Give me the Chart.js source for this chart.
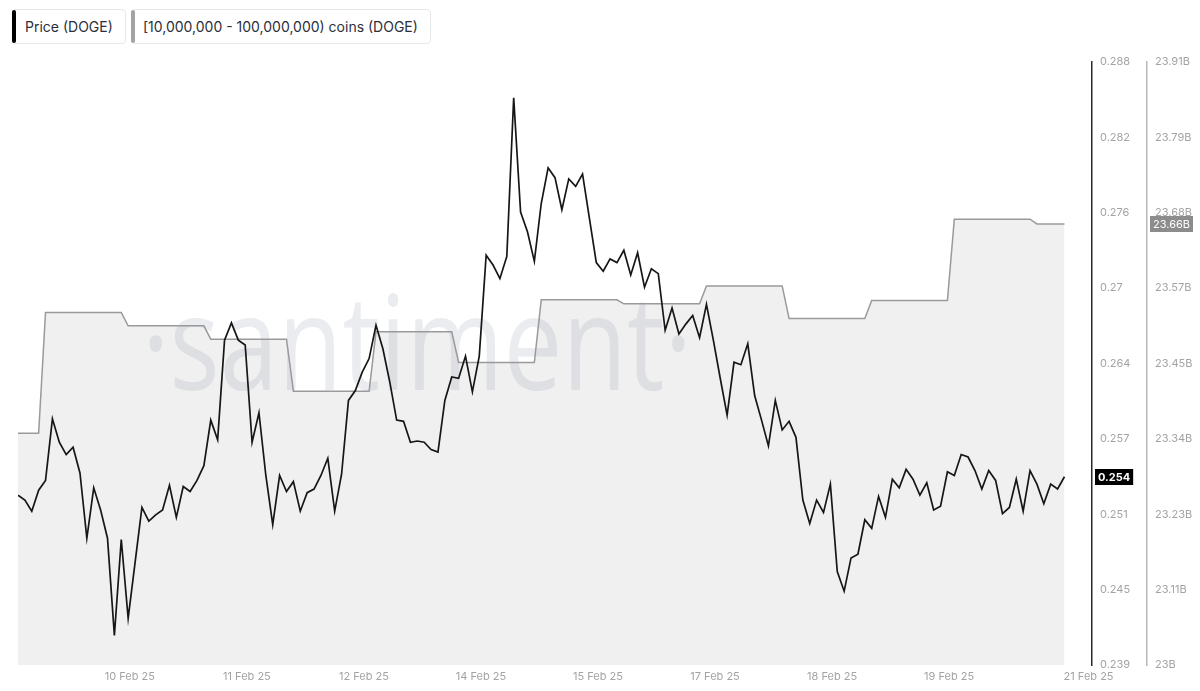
<!DOCTYPE html>
<html><head><meta charset="utf-8">
<script src="https://cdn.jsdelivr.net/npm/chart.js@4.4.1/dist/chart.umd.min.js"></script>
<style>
html,body{margin:0;padding:0;background:#fff;}
#wrap{position:relative;width:1200px;height:691px;overflow:hidden;font-family:Inter,"Noto Sans",sans-serif;}
canvas{position:absolute;left:0;top:0;}
.leg{position:absolute;top:9px;height:35px;box-sizing:border-box;border:1px solid #e8e8e8;border-radius:4px;background:#fff;font-size:14px;color:#2b2f3a;line-height:33px;padding:0 12px 0 12px;white-space:nowrap;}
.leg i{position:absolute;left:-1px;top:0px;bottom:0px;width:4px;border-radius:3px;}
</style></head>
<body>
<div id="wrap">
<canvas id="c" width="1200" height="691"></canvas>
<div class="leg" style="left:12px"><i style="background:#000"></i>Price (DOGE)</div>
<div class="leg" style="left:131px;padding-left:11px"><i style="background:#a3a3a3"></i>[10,000,000 - 100,000,000) coins (DOGE)</div>
</div>
<script>
// ---- DATA (2-hourly price points, daily holder balance) ----
const price = [
0.2528,0.2524,0.2515,0.2532,0.2540,0.2590,0.2571,0.2561,0.2567,0.2546,
0.2493,0.2534,0.2516,0.2493,0.2414,0.2492,0.2428,0.2473,0.2518,0.2507,
0.2512,0.2516,0.2536,0.2510,0.2535,0.2531,0.2540,0.2552,0.2589,0.2573,
0.2654,0.2668,0.2654,0.2650,0.2571,0.2595,0.2544,0.2504,0.2544,0.2531,
0.2539,0.2515,0.2530,0.2533,0.2544,0.2558,0.2515,0.2545,0.2605,0.2613,
0.2628,0.2639,0.2666,0.2647,0.2620,0.2589,0.2588,0.2571,0.2572,0.2571,
0.2565,0.2563,0.2605,0.2624,0.2623,0.2641,0.2612,0.2641,0.2723,0.2715,
0.2704,0.2722,0.2851,0.2758,0.2742,0.2718,0.2765,0.2794,0.2786,0.2760,
0.2785,0.2779,0.2789,0.2753,0.2717,0.2710,0.2720,0.2717,0.2727,0.2707,
0.2725,0.2697,0.2712,0.2708,0.2662,0.2680,0.2659,0.2667,0.2674,0.2656,
0.2683,0.2654,0.2623,0.2593,0.2636,0.2634,0.2651,0.2609,0.2589,0.2568,
0.2605,0.2581,0.2588,0.2575,0.2524,0.2505,0.2524,0.2514,0.2537,0.2466,
0.2450,0.2477,0.2480,0.2508,0.2501,0.2527,0.2510,0.2541,0.2534,0.2549,
0.2541,0.2528,0.2538,0.2516,0.2519,0.2547,0.2544,0.2561,0.2559,0.2548,
0.2533,0.2548,0.2540,0.2513,0.2518,0.2541,0.2515,0.2548,0.2537,0.2521,
0.2537,0.2533,0.2543
];
// holder balance (billions DOGE), one value per day; index of price point where each day starts
const holderLevels = [23.348,23.529,23.509,23.489,23.411,23.500,23.454,23.548,23.542,23.569,23.520,23.547,23.669,23.662];
const holderDayStart = [0,4,16,28,40,52,64,76,88,100,112,124,136,148];

const xTickLabels = ['10 Feb 25','11 Feb 25','12 Feb 25','14 Feb 25','15 Feb 25','17 Feb 25','18 Feb 25','19 Feb 25','21 Feb 25'];
const xTickAt = [16.25,33.25,50.25,67.25,84.25,101.25,118.25,135.25,155.5];
const xMax = 156;

const priceTickLabels = ['0.239','0.245','0.251','0.257','0.264','0.27','0.276','0.282','0.288'];
const priceMin = 0.239, priceMax = 0.288;
const holderTickLabels = ['23B','23.11B','23.23B','23.34B','23.45B','23.57B','23.68B','23.79B','23.91B'];
const holderMin = 23.0, holderMax = 23.905;

const priceLabel = 'Price (DOGE)';
const holderLabel = '[10,000,000 - 100,000,000) coins (DOGE)';

// ---- build datasets ----
const pricePoints = price.map((v,i)=>({x:i,y:v}));
const holderPoints = [];
holderLevels.forEach((v,k)=>{
  const s = holderDayStart[k];
  const e = k+1<holderDayStart.length ? holderDayStart[k+1]-1 : price.length-1;
  holderPoints.push({x:s,y:v},{x:e,y:v});
});

const FONT = 'Inter';
const TICK_COLOR = '#a3a3a3';

const evenTicks = (min,max,n)=>Array.from({length:n},(_,i)=>({value:min+i*(max-min)/(n-1)}));

const watermark = {
  id:'watermark',
  beforeDatasetsDraw(c){
    const g=c.ctx; g.save();
    const txt='·santiment·';
    g.font='400 132px "Open Sans"';
    const w=g.measureText(txt).width;
    const target=550;
    g.translate(142,390);
    g.scale(target/w,1);
    g.fillStyle='rgba(90,105,140,0.13)';
    g.textBaseline='alphabetic';
    g.fillText(txt,0,0);
    g.restore();
  }
};

const lastTags = {
  id:'lastTags',
  afterDraw(c){
    const g=c.ctx;
    const tag=(scale,val,text,bg,bold)=>{
      const y=scale.getPixelForValue(val);
      g.save();
      g.font=(bold?'bold ':'')+'11px '+FONT;
      const w=g.measureText(text).width+6, h=16;
      const x=scale.left+3;
      g.fillStyle=bg; g.fillRect(x,Math.round(y-h/2),w,h);
      g.fillStyle='#fff'; g.textBaseline='middle'; g.textAlign='left';
      g.fillText(text,x+3,Math.round(y)+0.5);
      g.restore();
    };
    tag(c.scales.yPrice, price[price.length-1], price[price.length-1].toFixed(3), '#000', true);
    const lh=holderLevels[holderLevels.length-1];
    tag(c.scales.yHold, lh, lh.toFixed(2)+'B', '#8c8c8c', false);
  }
};

new Chart(document.getElementById('c'),{
  type:'line',
  data:{datasets:[
    {label:priceLabel,data:pricePoints,yAxisID:'yPrice',borderColor:'#161616',borderWidth:1.7,pointRadius:0,tension:0,fill:false,borderJoinStyle:'miter'},
    {label:holderLabel,data:holderPoints,yAxisID:'yHold',borderColor:'#9a9a9a',borderWidth:1.5,pointRadius:0,tension:0,fill:'start',backgroundColor:'#f0f0f0'}
  ]},
  options:{
    responsive:false,animation:false,events:[],
    layout:{padding:{left:18,top:62,right:0,bottom:0}},
    plugins:{legend:{display:false},tooltip:{enabled:false},filler:{drawTime:'beforeDatasetsDraw'}},
    scales:{
      x:{type:'linear',min:0,max:xMax,grid:{display:false,drawTicks:false},border:{display:false},
        afterBuildTicks:s=>{s.ticks=xTickAt.map(v=>({value:v}));},
        afterFit:s=>{s.height=26;},
        ticks:{autoSkip:false,maxRotation:0,padding:5,color:TICK_COLOR,font:{family:FONT,size:11},callback:(v,i)=>xTickLabels[i]}
      },
      yPrice:{type:'linear',position:'right',min:priceMin,max:priceMax,grid:{display:false,drawTicks:false},
        border:{display:true,color:'#2a2a2a',width:1.5},
        afterBuildTicks:s=>{s.ticks=evenTicks(priceMin,priceMax,priceTickLabels.length);},
        afterFit:s=>{s.width=55;},
        ticks:{padding:8,color:TICK_COLOR,font:{family:FONT,size:11},callback:(v,i)=>priceTickLabels[i]}
      },
      yHold:{type:'linear',position:'right',min:holderMin,max:holderMax,grid:{display:false,drawTicks:false},
        border:{display:true,color:'#b8b8b8',width:1.5},
        afterBuildTicks:s=>{s.ticks=evenTicks(holderMin,holderMax,holderTickLabels.length);},
        afterFit:s=>{s.width=53;},
        ticks:{padding:8,color:TICK_COLOR,font:{family:FONT,size:11},callback:(v,i)=>holderTickLabels[i]}
      }
    }
  },
  plugins:[watermark,lastTags]
});
</script>
</body></html>
